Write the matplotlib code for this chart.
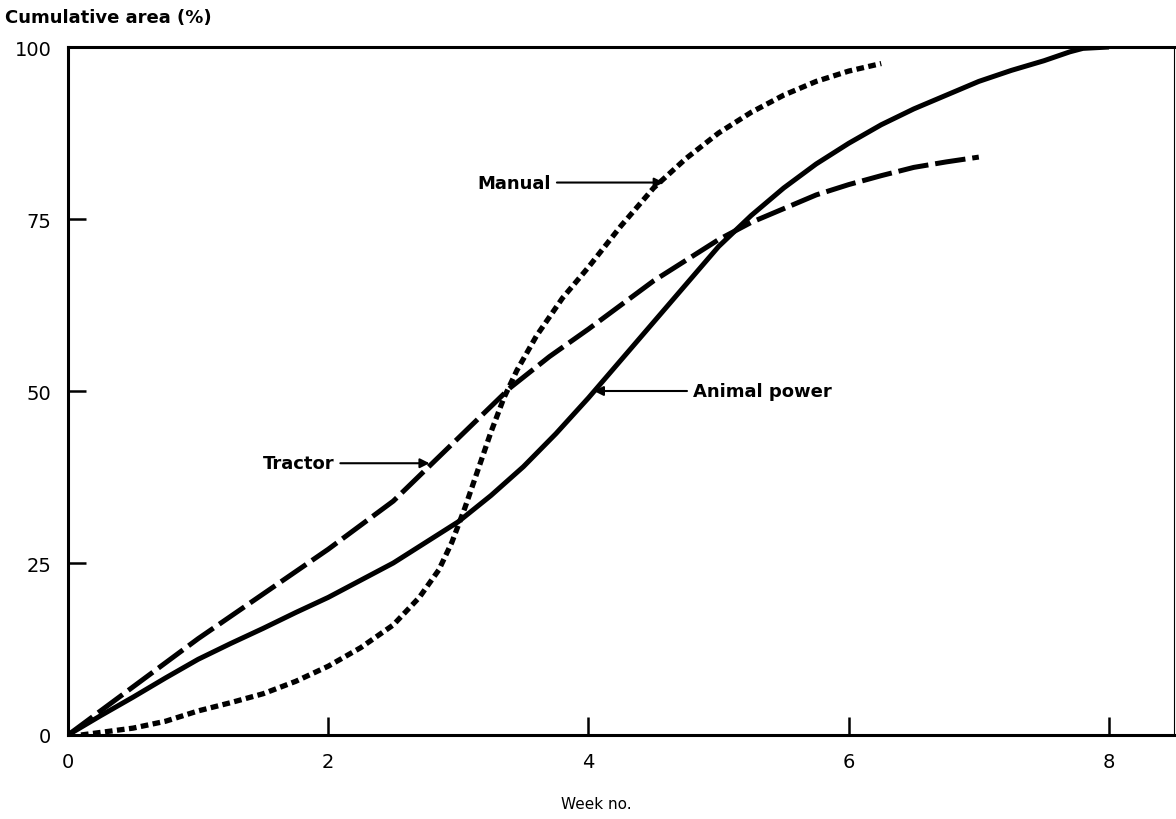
import numpy as np
import matplotlib.pyplot as plt

plt.rcParams['font.family'] = 'DejaVu Sans'
plt.rcParams['lines.scale_dashes'] = False

# cumulative area (%) by week
animal_x = [0, 0.25, 0.5, 0.75, 1, 1.25, 1.5, 1.75, 2, 2.25, 2.5, 2.75, 3, 3.25,
            3.5, 3.75, 4, 4.25, 4.5, 4.75, 5, 5.25, 5.5, 5.75, 6, 6.25, 6.5, 6.75,
            7, 7.25, 7.5, 7.7, 7.8, 8]
animal_y = [0, 2.8, 5.5, 8.3, 11, 13.3, 15.5, 17.8, 20, 22.5, 25, 28, 31, 34.8,
            39, 43.8, 49, 54.5, 60, 65.5, 71, 75.5, 79.5, 83, 86, 88.7, 91, 93,
            95, 96.6, 98, 99.3, 99.8, 100]

tractor_x = [0, 0.5, 1, 1.5, 2, 2.5, 2.8, 3.1, 3.4, 3.7, 4, 4.25, 4.5, 4.75, 5,
             5.25, 5.5, 5.75, 6, 6.25, 6.5, 6.75, 7]
tractor_y = [0, 7, 14, 20.5, 27, 34, 39.5, 45, 50.5, 55, 59, 62.5, 66, 69, 72,
             74.5, 76.5, 78.5, 80, 81.3, 82.5, 83.3, 84]

manual_x = [0.1, 0.3, 0.5, 0.75, 1, 1.25, 1.5, 1.75, 2, 2.25, 2.5, 2.7, 2.85, 2.95,
            3.05, 3.15, 3.25, 3.35, 3.45, 3.6, 3.8, 4, 4.25, 4.5, 4.75, 5, 5.25,
            5.5, 5.75, 6, 6.25]
manual_y = [0, 0.5, 1, 2, 3.5, 4.7, 6, 7.8, 10, 12.7, 16, 20, 24, 28,
            33, 38.5, 44, 49, 53, 58, 63.5, 68, 74, 79.5, 83.8, 87.5, 90.5,
            93, 95, 96.5, 97.6]

xticks = [0, 2, 4, 6, 8]
yticks = [0, 25, 50, 75, 100]


def main():
    fig = plt.figure(figsize=(11.76, 8.2), dpi=100)
    ax = fig.add_axes([68 / 1176, 1 - 736 / 820, (1174 - 68) / 1176, (736 - 48) / 820])

    ax.plot(animal_x, animal_y, color='black', lw=3.6, solid_capstyle='butt')
    ax.plot(tractor_x, tractor_y, color='black', lw=3.6, linestyle=(0, (22, 5)))
    ax.plot(manual_x, manual_y, color='black', lw=3.8, linestyle=(0, (5.5, 3.2)))

    arrow = dict(arrowstyle='-|>', color='black', lw=1.5, mutation_scale=14)
    txt = dict(fontsize=13, fontweight='bold', va='center')
    ax.annotate('Manual', xy=(4.6, 80.3), xytext=(3.15, 80.3), ha='left',
                arrowprops=arrow, **txt)
    ax.annotate('Animal power', xy=(4.02, 50), xytext=(4.8, 50), ha='left',
                arrowprops=arrow, **txt)
    ax.annotate('Tractor', xy=(2.8, 39.5), xytext=(1.5, 39.5), ha='left',
                arrowprops=arrow, **txt)

    ax.set_xlim(0, 8.5)
    ax.set_ylim(0, 100)
    ax.set_xticks(xticks)
    ax.set_yticks(yticks)
    ax.tick_params(direction='in', length=13, width=1.8, labelsize=14)
    ax.tick_params(axis='x', pad=12)
    ax.tick_params(axis='y', pad=12)
    for s in ['left', 'bottom', 'top']:
        ax.spines[s].set_linewidth(2.2)
    ax.spines['right'].set_linewidth(0.8)

    fig.text(5 / 1176, 1 - 18 / 820, 'Cumulative area (%)', fontsize=13,
             fontweight='bold', va='center', ha='left')
    fig.text(596 / 1176, 1 - 805 / 820, 'Week no.', fontsize=11,
             va='center', ha='center')

    fig.savefig('out.png', dpi=100)


if __name__ == '__main__':
    main()
